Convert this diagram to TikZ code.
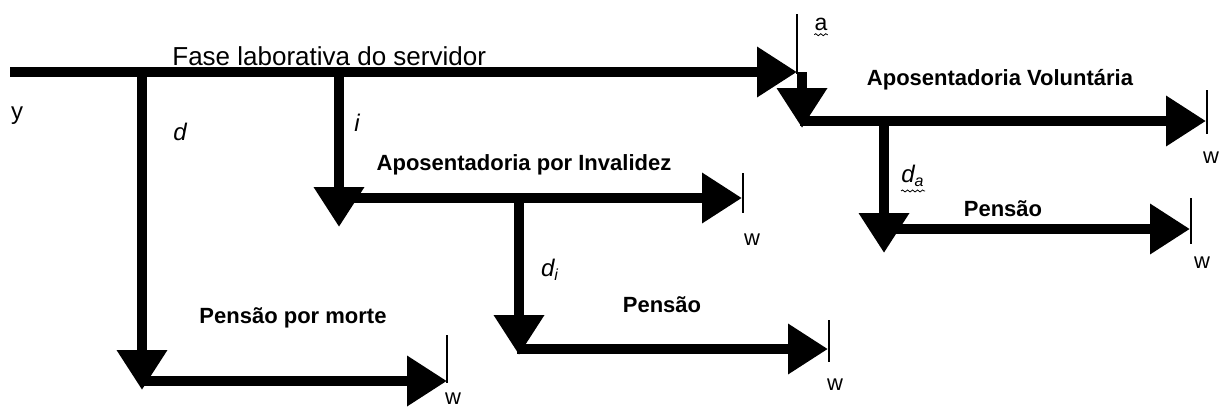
\documentclass[tikz,border=0pt]{standalone}
\usepackage{fontspec}
\setmainfont{Liberation Sans}
\usetikzlibrary{arrows.meta,decorations.pathmorphing}

\begin{document}
\begin{tikzpicture}[x=0.5pt,y=-0.5pt,
  every node/.style={inner sep=0pt},
  flow/.style={line width=5pt,-{Triangle[length=20pt,width=24pt]}},
  endmark/.style={line width=0.8pt},
  wavy/.style={decorate,decoration={snake,amplitude=0.5pt,segment length=2.5pt},line width=0.4pt},
  plain/.style={font=\fontsize{12}{14}\selectfont},
  wlab/.style={font=\fontsize{11}{13}\selectfont},
  var/.style={font=\fontsize{12}{14}\selectfont\itshape},
  phase/.style={font=\fontsize{11}{13}\selectfont\bfseries}]
\useasboundingbox (0,0) rectangle (1219,407);

% main line
\coordinate (servStart) at (10,72);
\coordinate (servEnd) at (797,72);
\coordinate (aTop) at (797,14);
\coordinate (aBot) at (797,74);
\path (172,65) node (fase) [anchor=base west,font=\fontsize{13}{15}\selectfont] {Fase laborativa do servidor};
\path (17,116) node (ylab) [plain] {y};
\path (821,24) node (alab) [font=\fontsize{11.5}{13}\selectfont] {a};

% voluntaria
\coordinate (volTop) at (802,72);
\coordinate (volTip) at (802,128);
\coordinate (volStart) at (800,121);
\coordinate (volEnd) at (1206,121);
\coordinate (volMarkTop) at (1207,90);
\coordinate (volMarkBot) at (1207,134);
\path (1000,80) node (vol) [phase] {Aposentadoria Voluntária};
\path (1211,158) node (wvol) [wlab] {w};

\coordinate (daTop) at (884,121);
\coordinate (daTip) at (884,253);
\coordinate (daStart) at (882,229);
\coordinate (daEnd) at (1190,229);
\coordinate (daMarkTop) at (1191,198);
\coordinate (daMarkBot) at (1191,244);
\path (913,176) node (dalab) [var] {d\textsubscript{a}};
\path (1003,209) node (pda) [phase] {Pensão};
\path (1202,263) node (wda) [wlab] {w};

% invalidez
\coordinate (iTop) at (339,72);
\coordinate (iTip) at (339,227);
\coordinate (invStart) at (337,198);
\coordinate (invEnd) at (742,198);
\coordinate (invMarkTop) at (743,173);
\coordinate (invMarkBot) at (743,213);
\path (357,123) node (ilab) [var] {i};
\path (524,165) node (inv) [phase] {Aposentadoria por Invalidez};
\path (752,240) node (winv) [wlab] {w};

\coordinate (diTop) at (519,198);
\coordinate (diTip) at (519,355);
\coordinate (diStart) at (517,349);
\coordinate (diEnd) at (828,349);
\coordinate (diMarkTop) at (829,320);
\coordinate (diMarkBot) at (829,362);
\path (550,270) node (dilab) [var] {d\textsubscript{i}};
\path (662,305) node (pdi) [phase] {Pensão};
\path (835,385) node (wdi) [wlab] {w};

% morte
\coordinate (dTop) at (142,72);
\coordinate (dTip) at (142,390);
\coordinate (mStart) at (140,381);
\coordinate (mEnd) at (447,381);
\coordinate (mMarkTop) at (447,335);
\coordinate (mMarkBot) at (447,383);
\path (180,132) node (dlab) [var] {d};
\path (293,318) node (morte) [phase] {Pensão por morte};
\path (453,399) node (wm) [wlab] {w};

\draw [flow] (servStart) to (servEnd);
\draw [flow] (volTop) to (volTip);
\draw [flow] (volStart) to (volEnd);
\draw [flow] (daTop) to (daTip);
\draw [flow] (daStart) to (daEnd);
\draw [flow] (iTop) to (iTip);
\draw [flow] (invStart) to (invEnd);
\draw [flow] (diTop) to (diTip);
\draw [flow] (diStart) to (diEnd);
\draw [flow] (dTop) to (dTip);
\draw [flow] (mStart) to (mEnd);

\draw [endmark] (aTop) to (aBot);
\draw [endmark] (volMarkTop) to (volMarkBot);
\draw [endmark] (daMarkTop) to (daMarkBot);
\draw [endmark] (invMarkTop) to (invMarkBot);
\draw [endmark] (diMarkTop) to (diMarkBot);
\draw [endmark] (mMarkTop) to (mMarkBot);

\draw [wavy] ([yshift=-2pt]alab.south west) to ([yshift=-2pt]alab.south east);
\draw [wavy] ([yshift=-2pt]dalab.south west) to ([yshift=-2pt]dalab.south east);
\end{tikzpicture}
\end{document}
